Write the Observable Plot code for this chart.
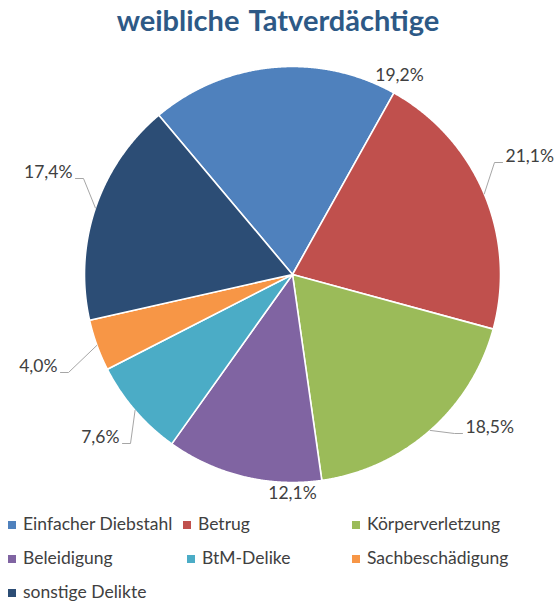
<!DOCTYPE html>
<html>
<head>
<meta charset="utf-8">
<script src="https://cdn.jsdelivr.net/npm/d3@7"></script>
<script src="https://cdn.jsdelivr.net/npm/@observablehq/plot@0.6"></script>
<style>
  html, body { margin: 0; padding: 0; background: #fff; }
  #wrap { width: 556px; height: 601px; position: relative; overflow: hidden; font-family: Lato, "Open Sans", sans-serif; }
  #title { height: 44px; box-sizing: border-box; padding-top: 5px; text-align: center; font-size: 29px; font-weight: bold; color: #2d5986; line-height: 1; word-spacing: 3px; }
  #chart svg { display: block; }
  #legend { position: relative; height: 91px; }
  .item { position: absolute; font-size: 17.5px; color: #404040; line-height: 1; white-space: nowrap; }
  .sw { display: inline-block; width: 8px; height: 8px; margin-right: 7px; vertical-align: 1px; }
</style>
</head>
<body>
<div id="wrap">
  <div id="title">weibliche Tatverdächtige</div>
  <div id="chart"></div>
  <div id="legend"></div>
</div>
<script>
// ---- data ----
const categories = ["Einfacher Diebstahl", "Betrug", "Körperverletzung", "Beleidigung", "BtM-Delike", "Sachbeschädigung", "sonstige Delikte"];
const shares = [19.2, 21.1, 18.5, 12.1, 7.6, 4.0, 17.4];
const colors = ["#4f81bd", "#c0504d", "#9bbb59", "#8064a2", "#4bacc6", "#f79646", "#2c4d75"];

// ---- layout (pixels relative to pie centre, screen y down) ----
const R = 208;
const startDeg = -40;
const labelLayout = [
  {dx: 107, dy: -199, anchor: "middle", leader: false},
  {dx: 213, dy: -118, anchor: "start", leader: true},
  {dx: 173, dy: 153, anchor: "start", leader: true},
  {dx: 0, dy: 219, anchor: "middle", leader: false},
  {dx: -173, dy: 163, anchor: "end", leader: true},
  {dx: -235, dy: 92, anchor: "end", leader: true},
  {dx: -220, dy: -102, anchor: "end", leader: true}
];
const legendLayout = [
  {x: 8, row: 0}, {x: 183, row: 0}, {x: 352, row: 0},
  {x: 8, row: 1}, {x: 187, row: 1}, {x: 352, row: 1},
  {x: 8, row: 2}
];
const rowY = [5, 39, 73];

const fmt = v => v.toFixed(1).replace(".", ",") + "%";
const rad = startDeg * Math.PI / 180;
const arcs = d3.pie().sort(null).startAngle(rad).endAngle(rad + 2 * Math.PI)(shares);

const slicePts = [];
arcs.forEach((p, i) => {
  slicePts.push({k: i, x: 0, y: 0, c: colors[i]});
  const n = Math.ceil((p.endAngle - p.startAngle) / (Math.PI / 720));
  for (let j = 0; j <= n; j++) {
    const a = p.startAngle + (p.endAngle - p.startAngle) * j / n;
    slicePts.push({k: i, x: Math.sin(a), y: Math.cos(a), c: colors[i]});
  }
  slicePts.push({k: i, x: 0, y: 0, c: colors[i]});
});

const labelData = arcs.map((p, i) => {
  const L = labelLayout[i];
  return {text: fmt(shares[i]), x: L.dx / R, y: -L.dy / R, anchor: L.anchor};
});

const leaderPts = [];
arcs.forEach((p, i) => {
  const L = labelLayout[i];
  if (!L.leader) return;
  const mid = (p.startAngle + p.endAngle) / 2;
  const side = L.anchor === "start" ? 1 : -1;
  const ex = L.dx - side * 3, ey = L.dy + 6;
  const bx = ex - side * 8;
  leaderPts.push({k: i, x: Math.sin(mid), y: Math.cos(mid)});
  leaderPts.push({k: i, x: bx / R, y: -ey / R});
  leaderPts.push({k: i, x: ex / R, y: -ey / R});
});

const cx = 292, cy = 230;
const plot = Plot.plot({
  width: 556,
  height: 466,
  style: {fontFamily: "Lato, 'Open Sans', sans-serif", background: "white"},
  x: {domain: [-1, 1], range: [cx - R, cx + R], axis: null},
  y: {domain: [-1, 1], range: [cy + R, cy - R], axis: null},
  color: {type: "identity"},
  marks: [
    Plot.line(slicePts, {x: "x", y: "y", z: "k", fill: "c", stroke: "white", strokeWidth: 1.6, strokeLinejoin: "round", curve: "linear"}),
    Plot.line(leaderPts, {x: "x", y: "y", z: "k", stroke: "#a6a6a6", strokeWidth: 1, curve: "linear"}),
    Plot.text(labelData, {filter: d => d.anchor === "middle", x: "x", y: "y", text: "text", textAnchor: "middle", fontSize: 17.5, fill: "#404040"}),
    Plot.text(labelData, {filter: d => d.anchor === "start", x: "x", y: "y", text: "text", textAnchor: "start", fontSize: 17.5, fill: "#404040"}),
    Plot.text(labelData, {filter: d => d.anchor === "end", x: "x", y: "y", text: "text", textAnchor: "end", fontSize: 17.5, fill: "#404040"})
  ]
});
document.getElementById("chart").appendChild(plot);

const legend = document.getElementById("legend");
categories.forEach((c, i) => {
  const L = legendLayout[i];
  const el = document.createElement("div");
  el.className = "item";
  el.style.left = L.x + "px";
  el.style.top = rowY[L.row] + "px";
  el.innerHTML = `<span class="sw" style="background:${colors[i]}"></span>${c}`;
  legend.appendChild(el);
});
</script>
</body>
</html>
